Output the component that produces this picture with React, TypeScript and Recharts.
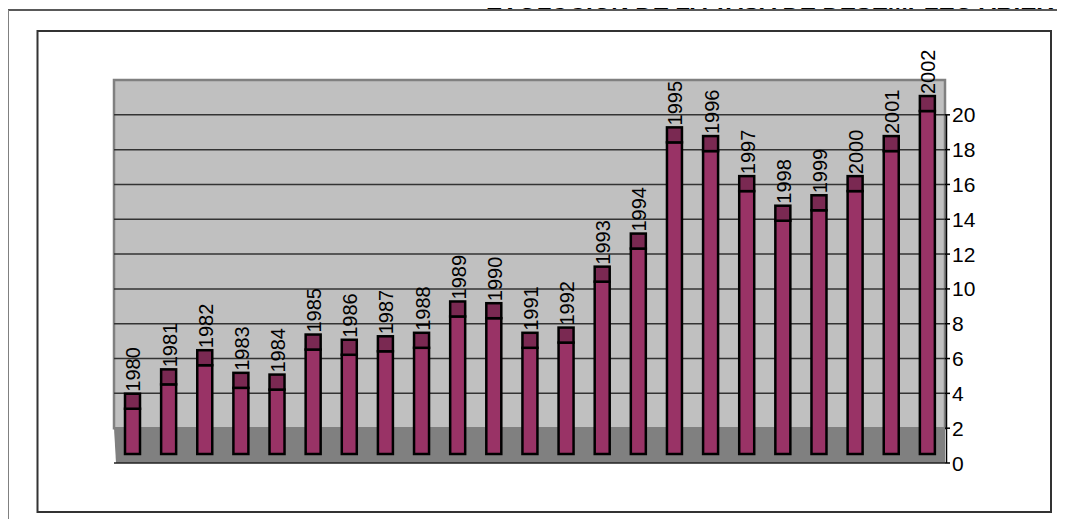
import React from 'react';
import { BarChart, Bar, XAxis, YAxis, ReferenceArea, ReferenceLine, LabelList } from 'recharts';

const years = ['1980', '1981', '1982', '1983', '1984', '1985', '1986', '1987', '1988', '1989', '1990', '1991',
  '1992', '1993', '1994', '1995', '1996', '1997', '1998', '1999', '2000', '2001', '2002'];
const rates = [2.6, 4.0, 5.1, 3.8, 3.7, 6.0, 5.7, 5.9, 6.1, 7.9, 7.8, 6.1, 6.4, 9.9, 11.8, 17.9, 17.4, 15.1, 13.4, 14.0,
  15.1, 17.4, 19.7];
const yTicks = [0, 2, 4, 6, 8, 10, 12, 14, 16, 18, 20];
const gridValues = [4, 6, 8, 10, 12, 14, 16, 18, 20];

const data = years.map((year, i) => ({ year, rate: rates[i] }));

const FONT = '"Liberation Sans", Arial, sans-serif';
const TOP = 80;
const BOTTOM = 64;
const HEIGHT = 527;
const Y_MAX = 22;
const TICK_SIZE = 5;
const TICK_MARGIN = 2;
// 3D look: front face pushed back a bit, cap = top face seen from above
const DEPTH_FRONT = 9;
const CAP = 15;

const Column = (props: any) => {
  const { x, y, width, height } = props;
  if (!height || height <= 0) return null;
  return (
    <g>
      <rect x={x} y={y - DEPTH_FRONT} width={width} height={height} fill="#993366" stroke="#000" strokeWidth={2.5} />
      <rect x={x} y={y - DEPTH_FRONT - CAP} width={width} height={CAP} fill="#7a2952" stroke="#000" strokeWidth={2.5} />
    </g>
  );
};

const YearLabel = (props: any) => {
  const vb = props.viewBox && props.viewBox.x !== undefined ? props.viewBox : props;
  const cx = vb.x + vb.width / 2 + 1;
  const cy = vb.y - DEPTH_FRONT - CAP - 2;
  return (
    <text x={cx} y={cy} transform={`rotate(-90, ${cx}, ${cy})`} textAnchor="start" dominantBaseline="central"
      fontFamily={FONT} fontSize={20} fill="#000">
      {props.value}
    </text>
  );
};

// tick text plus a piece of the axis line down to the next tick
const AxisTick = (props: any) => {
  const { x, y, payload } = props;
  const lineX = x - TICK_SIZE - TICK_MARGIN + 1.5;
  const unit = (HEIGHT - TOP - BOTTOM) / Y_MAX;
  return (
    <g>
      {payload.value > 0 && (
        <line x1={lineX} y1={y} x2={lineX} y2={y + 2 * unit} stroke="#000" strokeWidth={1.5} />
      )}
      <text x={x} y={y} textAnchor="start" dominantBaseline="central" fontFamily={FONT} fontSize={21} fill="#000">
        {payload.value}
      </text>
    </g>
  );
};

const Floor = (props: any) => {
  const { x, y, width, height } = props;
  return (
    <polygon points={`${x},${y} ${x + width},${y} ${x + width},${y + height} ${x + 2},${y + height}`}
      fill="#808080" stroke="none" />
  );
};

export default function UnemploymentChart() {
  return (
    <div style={{ position: 'relative', width: 1065, height: HEIGHT, margin: -8, overflow: 'hidden', background: '#fff' }}>
      <svg width={1065} height={HEIGHT} style={{ position: 'absolute', left: 0, top: 0 }}>
        <line x1={5} y1={10} x2={1065} y2={10} stroke="#222" strokeWidth={1.5} />
        <line x1={8} y1={10} x2={8} y2={HEIGHT} stroke="#808080" strokeWidth={2} />
        <rect x={37.5} y={31} width={1013.5} height={481} fill="#fff" stroke="#333" strokeWidth={2} />
      </svg>
      <div style={{ position: 'absolute', left: 0, top: 0 }}>
        <BarChart width={1065} height={HEIGHT} data={data} margin={{ top: TOP, right: 60, left: 114, bottom: BOTTOM }}>
          <XAxis dataKey="year" hide />
          <YAxis orientation="right" width={60} domain={[0, Y_MAX]} ticks={yTicks} interval={0} axisLine={false}
            tickLine={{ stroke: '#000', strokeWidth: 1.5 }} tickSize={TICK_SIZE} tickMargin={TICK_MARGIN}
            tick={AxisTick} />
          <ReferenceArea y1={2} y2={22} fill="#c0c0c0" fillOpacity={1} stroke="#808080" strokeWidth={2.5}
            zIndex={100} />
          <ReferenceArea y1={0} y2={2} fillOpacity={1} shape={Floor} zIndex={100} />
          {gridValues.map((v) => (
            <ReferenceLine key={v} y={v} stroke="#333" strokeWidth={1.5} zIndex={150} />
          ))}
          <ReferenceLine y={0} stroke="#222" strokeWidth={1.5} zIndex={150} />
          <Bar dataKey="rate" barSize={15} shape={Column} isAnimationActive={false}>
            <LabelList dataKey="year" content={YearLabel} />
          </Bar>
        </BarChart>
      </div>
      <svg width={1065} height={40} style={{ position: 'absolute', left: 0, top: 0, zIndex: 2 }}>
        <text x={486} y={9} fontFamily={FONT} fontWeight={700} fontSize={24} fill="#000">
          EVOLUCIÓN DE LA TASA DE DESEMPLEO ABIERTO
        </text>
      </svg>
    </div>
  );
}
